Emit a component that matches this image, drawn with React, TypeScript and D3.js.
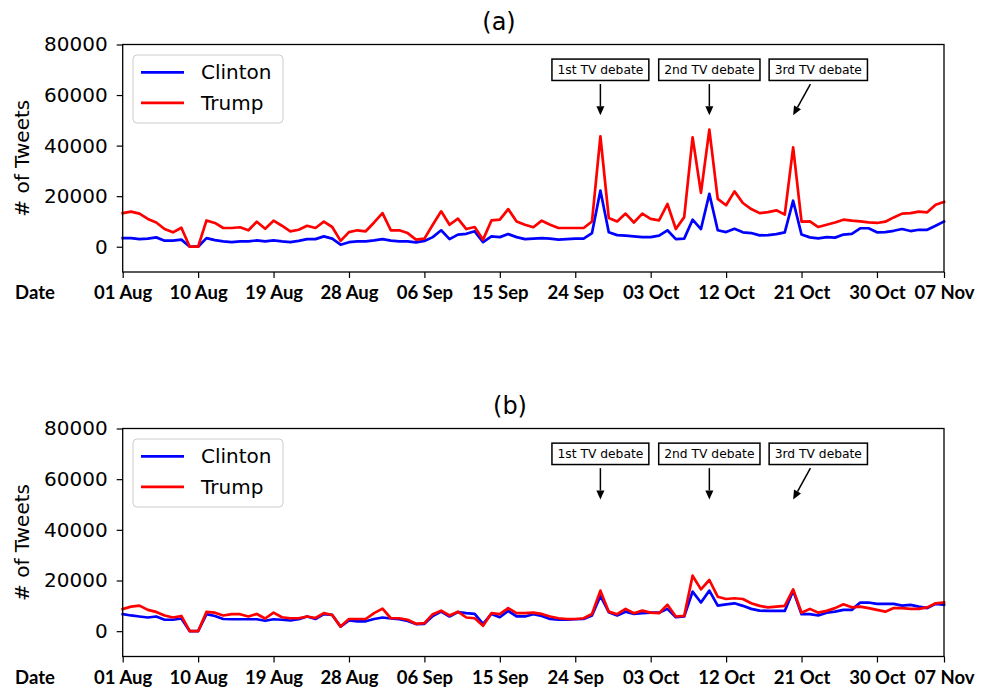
import React, { useEffect, useRef } from "react";
import * as d3 from "d3";

// daily tweet counts, 01 Aug 2016 .. 07 Nov 2016
const startDay = new Date(2016, 7, 1);
const endDay = new Date(2016, 10, 7);
const dates = d3.timeDay.range(startDay, d3.timeDay.offset(endDay, 1));

// (a) all tweets
const clintonA = [
  3400, 3400, 3000, 3200, 3700, 2400, 2400, 2800, 0, 0,
  3400, 2600, 2100, 1800, 2100, 2100, 2500, 2100, 2500, 2100,
  1800, 2300, 3000, 3000, 4100, 3200, 800, 1800, 2100, 2100,
  2500, 3000, 2400, 2100, 2100, 1700, 2300, 3800, 6500, 3000,
  4800, 5100, 6100, 1800, 4100, 3800, 5000, 3800, 3000, 3200,
  3400, 3200, 2800, 3000, 3200, 3200, 5400, 22200, 5700, 4600,
  4400, 4100, 3800, 3800, 4400, 6500, 3000, 3200, 10700, 7000,
  20900, 6500, 5800, 7100, 5700, 5400, 4500, 4600, 5000, 5700,
  18200, 4800, 3700, 3300, 3800, 3600, 4800, 5100, 7300, 7300,
  5700, 5800, 6300, 7000, 6200, 6700, 6700, 8300, 10000,
];
const trumpA = [
  13300, 13900, 13100, 11000, 9600, 7000, 5700, 7500, 0, 0,
  10400, 9400, 7400, 7400, 7700, 6500, 9900, 7100, 10300, 8300,
  6100, 6700, 8300, 7400, 9900, 7800, 2300, 5800, 6500, 6100,
  9600, 13300, 6500, 6500, 5400, 2800, 3200, 8700, 14000, 8700,
  11100, 7000, 7800, 2800, 10400, 10700, 14900, 10000, 8700, 7700,
  10300, 8700, 7400, 7400, 7400, 7400, 10000, 43700, 11400, 10000,
  13100, 9600, 13100, 11000, 10400, 16900, 7000, 11700, 43300, 21300,
  46300, 18900, 16400, 21900, 17300, 14900, 13300, 13700, 14400, 12700,
  39300, 9900, 10000, 7800, 8700, 9600, 10700, 10300, 10000, 9600,
  9400, 9900, 11600, 13100, 13300, 13900, 13600, 16600, 17700,
];

// (b)
const clintonB = [
  6700, 6200, 5800, 5400, 5800, 4500, 4500, 5000, 0, 0,
  6700, 6000, 4800, 4700, 4700, 4700, 4700, 4100, 4700, 4500,
  4200, 4700, 5800, 4800, 6700, 6400, 1800, 4200, 3900, 3900,
  4800, 5400, 5000, 4700, 4000, 2800, 2900, 6000, 7700, 5800,
  7500, 7100, 6800, 2900, 6800, 5500, 8000, 5800, 5800, 6700,
  6000, 4800, 4500, 4500, 4700, 4800, 6200, 13900, 7500, 6200,
  7700, 6800, 7100, 7300, 7300, 8800, 5500, 5800, 15600, 11300,
  16000, 10100, 10600, 11000, 10000, 8800, 8100, 8000, 8000, 8000,
  16000, 6700, 6700, 6200, 7300, 7700, 8400, 8400, 11300, 11300,
  10800, 10800, 10800, 10100, 10400, 9700, 9100, 10800, 10400,
];
const trumpB = [
  8700, 9700, 10100, 8400, 7600, 6200, 5400, 6000, 0, 0,
  7600, 7300, 6200, 6700, 6700, 5800, 6800, 5000, 7300, 5500,
  5100, 5100, 5800, 5200, 7100, 6400, 1800, 4800, 4800, 4800,
  7100, 8900, 5100, 5100, 4500, 2900, 3200, 6700, 8100, 6200,
  7700, 5400, 5100, 2100, 7100, 6700, 9100, 7100, 7100, 7300,
  6800, 5800, 5100, 4800, 4800, 5100, 6800, 16000, 7700, 6700,
  8800, 7100, 8100, 7300, 7100, 10400, 5800, 6000, 21900, 16500,
  20200, 13600, 12700, 13000, 12700, 11000, 10000, 9400, 9700, 10000,
  16500, 7300, 8800, 7300, 8000, 9100, 10600, 9400, 9700, 9100,
  8400, 7700, 9100, 9100, 8800, 8800, 9400, 11000, 11300,
];

const yTicks = [0, 20000, 40000, 60000, 80000];
// every 9th day from 01 Aug, plus the last day
const xTicks = [...d3.timeDay.range(startDay, endDay, 9), endDay];
const seriesNames = ["Clinton", "Trump"];
const seriesColors = ["#0000ff", "#ff0000"];

// debate annotations: label, box position, arrow tip
const debateLabels = ["1st TV debate", "2nd TV debate", "3rd TV debate"];
const debateBoxDays = [new Date(2016, 8, 27), new Date(2016, 9, 10), new Date(2016, 9, 23)];
const debateTipDays = [new Date(2016, 8, 27), new Date(2016, 9, 10), new Date(2016, 9, 20)];
const boxValue = 70000;
const tipValue = 52000;

const W = 992;
const H = 691;
const left = 122.7;
const right = 944;
const sans = "DejaVu Sans, sans-serif";
const bold = "Lato, 'Open Sans', sans-serif";

const panels = [
  { title: "(a)", titleX: 499, titleY: 30, top: 44.5, bottom: 272, clinton: clintonA, trump: trumpA },
  { title: "(b)", titleX: 510, titleY: 414, top: 428.5, bottom: 656.5, clinton: clintonB, trump: trumpB },
];

const App = () => {
  const svgRef = useRef(null);

  const drawChart = () => {
    const svg = d3.select(svgRef.current);
    svg.selectAll("*").remove();

    const x = d3.scaleTime().domain([startDay, endDay]).range([left, right]);

    panels.forEach((p) => {
      const y = d3.scaleLinear().domain([-10000, 80000]).range([p.bottom, p.top]);
      const g = svg.append("g");

      // title
      g.append("text")
        .attr("x", p.titleX)
        .attr("y", p.titleY)
        .attr("text-anchor", "middle")
        .style("font-family", sans)
        .style("font-size", "24px")
        .text(p.title);

      // lines
      const line = d3
        .line<number>()
        .x((_, i) => x(dates[i]))
        .y((d) => y(d));
      [p.clinton, p.trump].forEach((vals, k) => {
        g.append("path")
          .datum(vals)
          .attr("d", line)
          .attr("fill", "none")
          .attr("stroke", seriesColors[k])
          .attr("stroke-width", 2.7)
          .attr("stroke-linejoin", "round")
          .attr("stroke-linecap", "square");
      });

      // frame
      g.append("rect")
        .attr("x", left)
        .attr("y", p.top)
        .attr("width", right - left)
        .attr("height", p.bottom - p.top)
        .attr("fill", "none")
        .attr("stroke", "#000")
        .attr("stroke-width", 1.3);

      // y axis
      const ya = g
        .append("g")
        .attr("transform", `translate(${left},0)`)
        .call(d3.axisLeft(y).tickValues(yTicks).tickSize(6).tickPadding(9).tickFormat(d3.format("d")));
      ya.select(".domain").remove();
      ya.selectAll("line").attr("stroke-width", 1.2);
      ya.selectAll("text").style("font-family", sans).style("font-size", "20px").attr("fill", "#000");

      g.append("text")
        .attr("transform", `translate(22,${(p.top + p.bottom) / 2}) rotate(-90)`)
        .attr("text-anchor", "middle")
        .attr("dominant-baseline", "central")
        .style("font-family", sans)
        .style("font-size", "20px")
        .text("# of Tweets");

      // x axis
      const xa = g
        .append("g")
        .attr("transform", `translate(0,${p.bottom})`)
        .call(d3.axisBottom(x).tickValues(xTicks).tickSize(6).tickPadding(8).tickFormat(d3.timeFormat("%d %b")));
      xa.select(".domain").remove();
      xa.selectAll("line").attr("stroke-width", 1.2);
      xa.selectAll("text")
        .style("font-family", bold)
        .style("font-size", "18.5px")
        .style("font-weight", "bold")
        .attr("fill", "#000");

      g.append("text")
        .attr("x", 35)
        .attr("y", p.bottom + 27)
        .attr("text-anchor", "middle")
        .style("font-family", bold)
        .style("font-size", "18.5px")
        .style("font-weight", "bold")
        .text("Date");

      // legend
      const lg = g.append("g").attr("transform", `translate(133,${p.top + 10.5})`);
      lg.append("rect")
        .attr("width", 150)
        .attr("height", 68)
        .attr("rx", 4)
        .attr("fill", "#fff")
        .attr("fill-opacity", 0.8)
        .attr("stroke", "#cccccc");
      seriesNames.forEach((name, k) => {
        const ly = 17.3 + k * 30.5;
        lg.append("line")
          .attr("x1", 8)
          .attr("x2", 51)
          .attr("y1", ly)
          .attr("y2", ly)
          .attr("stroke", seriesColors[k])
          .attr("stroke-width", 2.7);
        lg.append("text")
          .attr("x", 68)
          .attr("y", ly)
          .attr("dominant-baseline", "central")
          .style("font-family", sans)
          .style("font-size", "20px")
          .text(name);
      });

      // debate annotations
      debateLabels.forEach((label, k) => {
        const cx = x(debateBoxDays[k]);
        const cy = y(boxValue);
        const tx = x(debateTipDays[k]);
        const ty = y(tipValue);
        const t = g
          .append("text")
          .attr("x", cx)
          .attr("y", cy)
          .attr("text-anchor", "middle")
          .attr("dominant-baseline", "central")
          .style("font-family", sans)
          .style("font-size", "12.3px")
          .text(label);
        const bb = (t.node() as SVGTextElement).getBBox();
        const bw = bb.width + 11;
        const bh = 21.4;
        g.insert("rect", () => t.node())
          .attr("x", cx - bw / 2)
          .attr("y", cy - bh / 2)
          .attr("width", bw)
          .attr("height", bh)
          .attr("fill", "#fff")
          .attr("stroke", "#000")
          .attr("stroke-width", 1.5);

        // arrow from below the box to the tip
        const sy = cy + bh / 2 + 3.6;
        const sx = cx + ((sy - cy) / (ty - cy)) * (tx - cx);
        const len = Math.hypot(tx - sx, ty - sy);
        const ux = (tx - sx) / len;
        const uy = (ty - sy) / len;
        const headL = 9;
        const headW = 4;
        const bx = tx - ux * headL;
        const by = ty - uy * headL;
        g.append("line")
          .attr("x1", sx)
          .attr("y1", sy)
          .attr("x2", bx)
          .attr("y2", by)
          .attr("stroke", "#000")
          .attr("stroke-width", 1.5);
        g.append("path")
          .attr(
            "d",
            `M${tx},${ty}L${bx - uy * headW},${by + ux * headW}L${bx + uy * headW},${by - ux * headW}Z`
          )
          .attr("fill", "#000");
      });
    });
  };

  useEffect(() => {
    if (svgRef.current) drawChart();
  }, []);

  return (
    <svg
      ref={svgRef}
      width={W}
      height={H}
      style={{ position: "absolute", left: 0, top: 0, background: "#fff" }}
    />
  );
};

export default App;
